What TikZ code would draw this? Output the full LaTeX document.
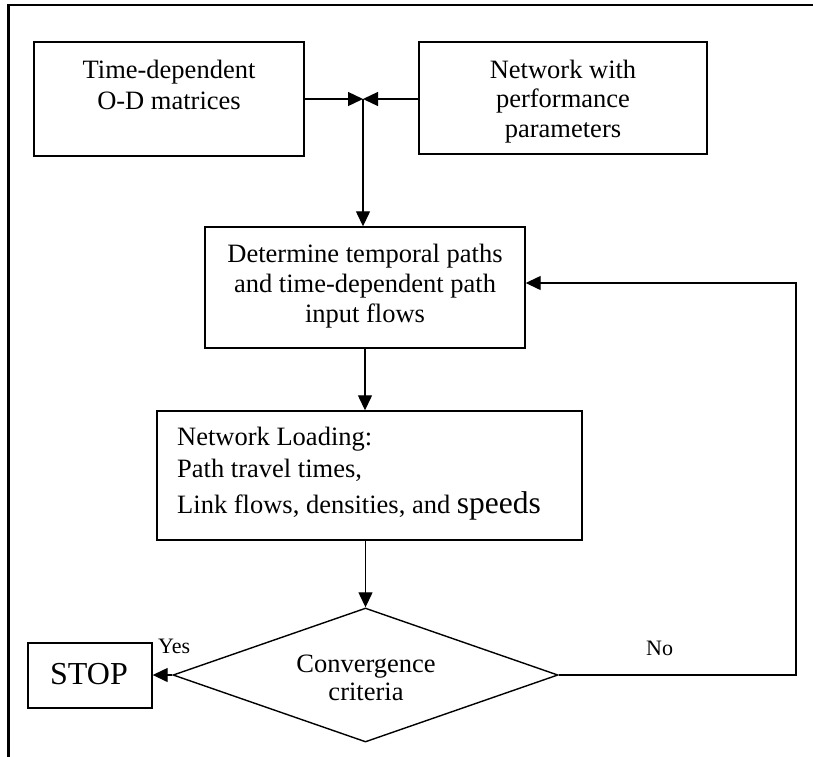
\documentclass[tikz,border=0pt]{standalone}
\usepackage{fontspec}
\setmainfont{Liberation Serif}
\usetikzlibrary{arrows.meta,shapes.geometric}
\tikzset{
  boxstyle/.style={draw, line width=1.4pt, rectangle, inner sep=0pt},
  txt/.style={anchor=base, inner sep=0pt, font=\fontsize{26.5}{30}\selectfont},
  txtl/.style={anchor=base west, inner sep=0pt, font=\fontsize{26.5}{30}\selectfont},
  small/.style={anchor=base west, inner sep=0pt, font=\fontsize{22}{26}\selectfont},
  arr/.style={line width=1.3pt, -{Triangle[length=15pt,width=14pt]}},
}
\begin{document}
\begin{tikzpicture}[x=1pt,y=-1pt]
\path[use as bounding box, clip] (0,0) rectangle (813,756);
\fill[white] (0,0) rectangle (813,756);
% outer frame (cut by the picture's right and bottom edges)
\draw[line width=2.2pt] (8.5,5) rectangle (830,775);

% boxes
\node[boxstyle, minimum width=270pt, minimum height=114pt] (b1) at (169,99) {};
\node[boxstyle, minimum width=288pt, minimum height=112pt] (b2) at (563,98) {};
\node[boxstyle, minimum width=320pt, minimum height=121pt] (b3) at (365,287.5) {};
\node[boxstyle, minimum width=425pt, minimum height=129pt] (b4) at (369.5,475.5) {};
\node[boxstyle, minimum width=124pt, minimum height=65pt] (stop) at (90,675.5) {};
\node[draw, line width=1.4pt, diamond, inner sep=0pt, minimum width=385pt, minimum height=134pt] (dia) at (365.5,675) {};

% texts
\node[txt] (t1a) at (169,78) {Time-dependent};
\node[txt] (t1b) at (169,109) {O-D matrices};
\node[txt] (t2a) at (563,78) {Network with};
\node[txt] (t2b) at (563,107) {performance};
\node[txt] (t2c) at (563,137) {parameters};
\node[txt] (t3a) at (365,262) {Determine temporal paths};
\node[txt] (t3b) at (365,292) {and time-dependent path};
\node[txt] (t3c) at (365,322) {input flows};
\node[txtl] (t4a) at (177,445) {Network Loading:};
\node[txtl] (t4b) at (177,477) {Path travel times,};
\node[txtl] (t4c) at (177,513) {Link flows, densities, and {\fontsize{31.5}{36}\selectfont speeds}};
\node[txt] (t5a) at (366,672) {Convergence};
\node[txt] (t5b) at (366,700) {criteria};
\node[anchor=base, inner sep=0pt, font=\fontsize{32}{36}\selectfont] (t6) at (89,684) {STOP};
\node[small] (yes) at (158,653) {Yes};
\node[small] (no) at (646,655) {No};

% connectors
\coordinate (j) at (363,99);
\draw[arr] (b1.east |- j) -- (j);
\draw[arr] (b2.west |- j) -- (j);
\draw[arr] (j) -- (j |- b3.north);
\draw[arr] (b3.south) -- (b3.south |- b4.north);
\draw[arr] (dia.north |- b4.south) -- (dia.north);
\draw[arr] (dia.west) -- (stop.east |- dia.west);
\coordinate (fb) at (796,675);
\coordinate (fbt) at (796,283);
\draw[arr] (dia.east) -- (fb) -- (fbt) -- (fbt -| b3.east);
\end{tikzpicture}
\end{document}
